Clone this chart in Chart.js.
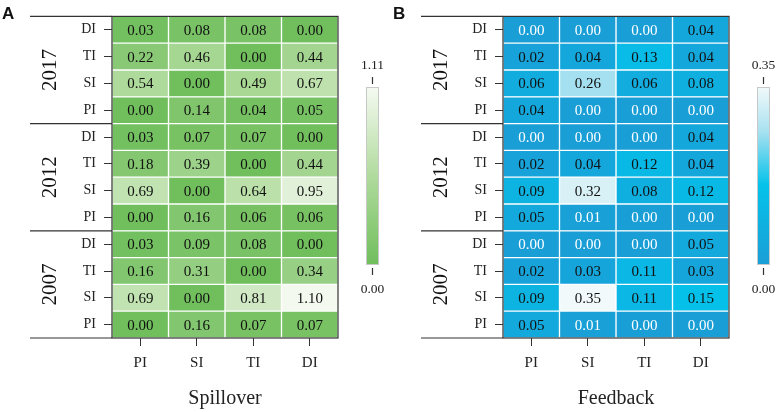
<!DOCTYPE html>
<html>
<head>
<meta charset="utf-8">
<script src="https://cdn.jsdelivr.net/npm/chart.js@4.4.0/dist/chart.umd.min.js"></script>
<style>
    html, body { margin: 0; padding: 0; background: #fff; }
    #wrap { display: flex; width: 782px; height: 412px; }
    canvas { display: block; }
</style>
</head>
<body>
<div id="wrap">
    <canvas id="spillChart" width="391" height="412"></canvas>
    <canvas id="feedChart" width="391" height="412"></canvas>
</div>
<script>
// rows top to bottom, grouped by year
const ROW_LABELS = ['DI', 'TI', 'SI', 'PI', 'DI', 'TI', 'SI', 'PI', 'DI', 'TI', 'SI', 'PI'];
const COL_LABELS = ['PI', 'SI', 'TI', 'DI'];
const YEARS = ['2017', '2012', '2007'];

const spillover = [
    [0.03, 0.08, 0.08, 0.00],
    [0.22, 0.46, 0.00, 0.44],
    [0.54, 0.00, 0.49, 0.67],
    [0.00, 0.14, 0.04, 0.05],
    [0.03, 0.07, 0.07, 0.00],
    [0.18, 0.39, 0.00, 0.44],
    [0.69, 0.00, 0.64, 0.95],
    [0.00, 0.16, 0.06, 0.06],
    [0.03, 0.09, 0.08, 0.00],
    [0.16, 0.31, 0.00, 0.34],
    [0.69, 0.00, 0.81, 1.10],
    [0.00, 0.16, 0.07, 0.07]
];

const feedback = [
    [0.00, 0.00, 0.00, 0.04],
    [0.02, 0.04, 0.13, 0.04],
    [0.06, 0.26, 0.06, 0.08],
    [0.04, 0.00, 0.00, 0.00],
    [0.00, 0.00, 0.00, 0.04],
    [0.02, 0.04, 0.12, 0.04],
    [0.09, 0.32, 0.08, 0.12],
    [0.05, 0.01, 0.00, 0.00],
    [0.00, 0.00, 0.00, 0.05],
    [0.02, 0.03, 0.11, 0.03],
    [0.09, 0.35, 0.11, 0.15],
    [0.05, 0.01, 0.00, 0.00]
];

const SPILL_RANGE = [0, 1.11];
const FEED_RANGE = [0, 0.35];

const GREEN_STOPS = [[0, [112, 190, 92]], [0.5, [176, 219, 157]], [1, [245, 250, 241]]];
const BLUE_STOPS = [[0, [26, 158, 214]], [0.45, [4, 194, 234]], [0.75, [168, 225, 240]], [1, [241, 249, 250]]];

const SERIF = "'Liberation Serif', 'Times New Roman', serif";

function rampColor(stops, t) {
    t = Math.max(0, Math.min(1, t));
    for (let i = 1; i < stops.length; i++) {
        if (t <= stops[i][0]) {
            const [t0, c0] = stops[i - 1];
            const [t1, c1] = stops[i];
            const f = (t - t0) / (t1 - t0);
            const c = c0.map((v, k) => Math.round(v + (c1[k] - v) * f));
            return `rgb(${c[0]}, ${c[1]}, ${c[2]})`;
        }
    }
    const last = stops[stops.length - 1][1];
    return `rgb(${last[0]}, ${last[1]}, ${last[2]})`;
}

/**
 * Draws frame, year groups, cell values and the colour bar
 */
function decorPlugin(panel, values, range, stops, textColor) {
    return {
        id: 'decor' + panel,
        afterDraw(chart) {
            const ctx = chart.ctx;
            const area = chart.chartArea;
            const xs = chart.scales.x;
            const ys = chart.scales.y;
            ctx.save();

            // cell values
            ctx.font = `15px ${SERIF}`;
            ctx.textAlign = 'center';
            ctx.textBaseline = 'middle';
            values.forEach((row, i) => {
                row.forEach((v, c) => {
                    ctx.fillStyle = textColor(v);
                    ctx.fillText(v.toFixed(2), xs.getPixelForValue(c + 0.5), ys.getPixelForValue(i) + 1);
                });
            });

            // frame
            ctx.strokeStyle = '#333';
            ctx.lineWidth = 1.2;
            ctx.strokeRect(area.left, area.top, area.right - area.left, area.bottom - area.top);

            // year separators and labels
            const groupEdges = [area.top];
            for (let g = 1; g < YEARS.length; g++) {
                groupEdges.push((ys.getPixelForValue(g * 4 - 1) + ys.getPixelForValue(g * 4)) / 2);
            }
            groupEdges.push(area.bottom);
            ctx.beginPath();
            groupEdges.forEach(y => {
                ctx.moveTo(30, y);
                ctx.lineTo(area.left, y);
            });
            ctx.stroke();

            ctx.fillStyle = '#111';
            ctx.font = `21px ${SERIF}`;
            YEARS.forEach((year, g) => {
                const yc = (groupEdges[g] + groupEdges[g + 1]) / 2;
                ctx.save();
                ctx.translate(50, yc);
                ctx.rotate(-Math.PI / 2);
                ctx.fillText(year, 0, 0);
                ctx.restore();
            });

            // panel letter
            ctx.font = "bold 17px 'Liberation Sans', Arial, sans-serif";
            ctx.textAlign = 'left';
            ctx.textBaseline = 'alphabetic';
            ctx.fillText(panel, 2, 19);

            // colour bar
            const cb = { left: 366, right: 379, top: 87, bottom: 265 };
            const grad = ctx.createLinearGradient(0, cb.bottom, 0, cb.top);
            stops.forEach(([t, c]) => grad.addColorStop(t, `rgb(${c[0]}, ${c[1]}, ${c[2]})`));
            ctx.fillStyle = grad;
            ctx.fillRect(cb.left, cb.top, cb.right - cb.left, cb.bottom - cb.top);
            ctx.strokeStyle = '#c8c8c8';
            ctx.lineWidth = 1;
            ctx.strokeRect(cb.left + 0.5, cb.top + 0.5, cb.right - cb.left - 1, cb.bottom - cb.top - 1);

            const cx = (cb.left + cb.right) / 2;
            ctx.strokeStyle = '#333';
            ctx.lineWidth = 1.2;
            ctx.beginPath();
            ctx.moveTo(cx, 77); ctx.lineTo(cx, 84);
            ctx.moveTo(cx, 268); ctx.lineTo(cx, 275);
            ctx.stroke();

            ctx.fillStyle = '#222';
            ctx.font = `13.5px ${SERIF}`;
            ctx.textAlign = 'center';
            ctx.textBaseline = 'middle';
            ctx.fillText(range[1].toFixed(2), cx, 65);
            ctx.fillText(range[0].toFixed(2), cx, 289);

            ctx.restore();
        }
    };
}

function makeHeatmap(canvasId, panel, values, range, stops, title, textColor) {
    const ctx = document.getElementById(canvasId);
    if (!ctx) return;

    const datasets = COL_LABELS.map((col, c) => ({
        label: col,
        data: ROW_LABELS.map(() => [c, c + 1]),
        backgroundColor: values.map(row => rampColor(stops, (row[c] - range[0]) / (range[1] - range[0]))),
        borderColor: '#ffffff',
        borderWidth: 1,
        borderSkipped: false,
        barPercentage: 1,
        categoryPercentage: 1,
        grouped: false
    }));

    new Chart(ctx, {
        type: 'bar',
        data: { labels: ROW_LABELS, datasets: datasets },
        options: {
            responsive: false,
            animation: false,
            indexAxis: 'y',
            layout: { padding: { left: 0, right: 53, top: 16, bottom: 0 } },
            plugins: {
                legend: { display: false },
                tooltip: { enabled: false }
            },
            scales: {
                x: {
                    type: 'linear',
                    min: 0,
                    max: 4,
                    afterBuildTicks: s => { s.ticks = COL_LABELS.map((_, c) => ({ value: c + 0.5 })); },
                    afterFit: s => { s.height = 74; },
                    ticks: {
                        callback: v => COL_LABELS[Math.round(v - 0.5)],
                        color: '#222',
                        font: { family: SERIF, size: 15 },
                        padding: 8,
                        maxRotation: 0,
                        autoSkip: false
                    },
                    grid: { drawOnChartArea: false, tickLength: 8, color: '#333' },
                    border: { display: false },
                    title: {
                        display: true,
                        text: title,
                        color: '#222',
                        font: { family: SERIF, size: 20 },
                        padding: { top: 0, bottom: 1 }
                    }
                },
                y: {
                    type: 'category',
                    offset: true,
                    afterFit: s => { s.width = 112; },
                    ticks: {
                        color: '#222',
                        font: { family: SERIF, size: 14 },
                        padding: 8,
                        autoSkip: false
                    },
                    grid: { offset: false, drawOnChartArea: false, tickLength: 8, color: '#333' },
                    border: { display: false }
                }
            }
        },
        plugins: [decorPlugin(panel, values, range, stops, textColor)]
    });
}

makeHeatmap('spillChart', 'A', spillover, SPILL_RANGE, GREEN_STOPS, 'Spillover', () => '#111');
makeHeatmap('feedChart', 'B', feedback, FEED_RANGE, BLUE_STOPS, 'Feedback', v => (v < 0.015 ? '#ffffff' : '#111'));
</script>
</body>
</html>
